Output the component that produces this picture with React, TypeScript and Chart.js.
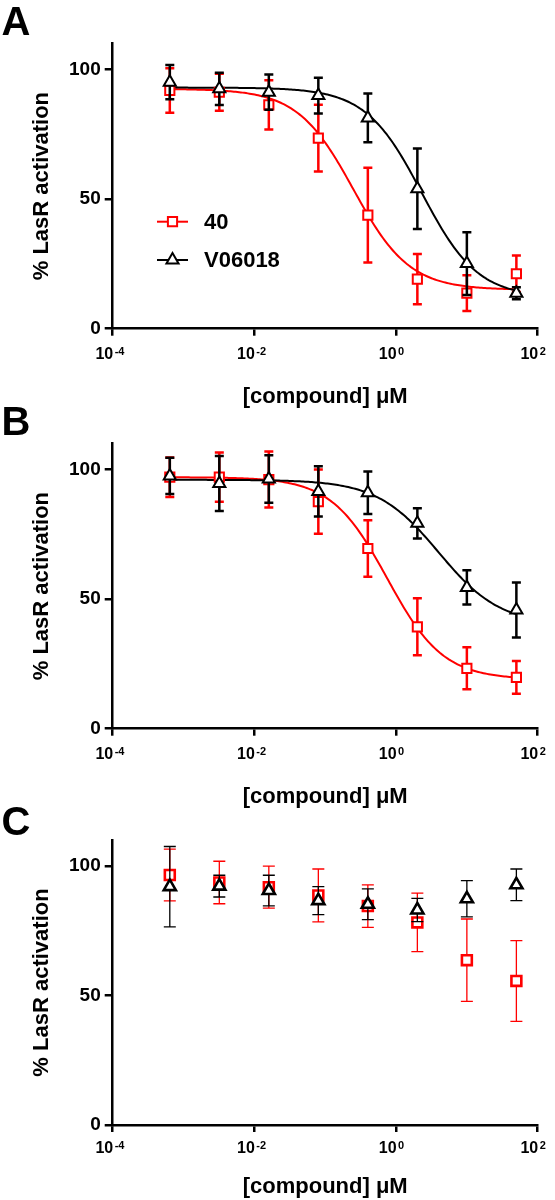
import React, { useEffect, useRef } from "react";
import { Chart, registerables } from "chart.js";

Chart.register(...registerables);

// ---------- data ----------
const concentrations = [0.00064, 0.0032, 0.016, 0.08, 0.4, 2, 10, 50];
const seriesNames = ["40", "V06018"];
const panelLetters = ["A", "B", "C"];
const xTickValues = [1e-4, 1e-2, 1, 1e2];
const xTickBase = ["10", "10", "10", "10"];
const xTickExponents = ["-4", "-2", "0", "2"];
const yTickValues = [0, 50, 100];
const yAxisTitle = "% LasR activation";
const xAxisTitle = "[compound] μM";

const a40Mean = [91.9, 91.2, 86.3, 73.5, 43.8, 19.1, 13.7, 21.2];
const a40Err = [8.6, 7.1, 9.5, 12.9, 18.3, 9.7, 6.9, 7.0];
const aV06018Mean = [95.1, 92.5, 91.2, 89.9, 81.3, 54.0, 25.1, 13.7];
const aV06018Err = [6.6, 6.2, 6.8, 6.9, 9.4, 15.5, 12.1, 2.3];

const b40Mean = [97.0, 97.0, 96.1, 87.6, 69.5, 39.3, 23.3, 19.8];
const b40Err = [7.6, 9.5, 10.8, 12.4, 10.9, 11.0, 8.1, 6.3];
const bV06018Mean = [97.5, 94.6, 96.3, 91.5, 91.0, 79.2, 54.5, 45.8];
const bV06018Err = [7.0, 10.6, 9.2, 9.7, 8.2, 5.8, 6.6, 10.6];

const c40Mean = [96.5, 93.6, 91.8, 88.6, 84.5, 78.2, 63.6, 55.6];
const c40Err = [10.0, 8.2, 8.1, 10.2, 8.2, 11.3, 15.9, 15.6];
const cV06018Mean = [92.0, 92.2, 90.5, 86.6, 85.2, 83.0, 87.3, 92.7];
const cV06018Err = [15.5, 4.2, 5.9, 5.4, 5.9, 4.5, 7.0, 6.1];

// four-parameter logistic fits: [top, bottom, IC50 (µM), Hill slope]
const fitA40 = [92.5, 15, 0.25, 1.1];
const fitAV06018 = [93, 12, 2.3, 1.1];
const fitB40 = [97, 19, 0.75, 1.1];
const fitBV06018 = [96, 40, 4, 1];

// ---------- styling ----------
const FONT = "'Liberation Sans', Arial, Helvetica, sans-serif";
const RED = "#ff0000";
const BLACK = "#000000";

type PanelSpec = {
  letter: string;
  red: { mean: number[]; err: number[] };
  black: { mean: number[]; err: number[] };
  redFit: number[] | null;
  blackFit: number[] | null;
  legend: boolean;
  top: number;
  height: number;
  plotTop: number;
  plotBottom: number;
  tickBaseline: number;
  titleCenter: number;
  thin: boolean;
};

const panels: PanelSpec[] = [
  {
    letter: panelLetters[0],
    red: { mean: a40Mean, err: a40Err },
    black: { mean: aV06018Mean, err: aV06018Err },
    redFit: fitA40,
    blackFit: fitAV06018,
    legend: true,
    top: 0,
    height: 420,
    plotTop: 43.5,
    plotBottom: 328.7,
    tickBaseline: 359,
    titleCenter: 396.5,
    thin: false,
  },
  {
    letter: panelLetters[1],
    red: { mean: b40Mean, err: b40Err },
    black: { mean: bV06018Mean, err: bV06018Err },
    redFit: fitB40,
    blackFit: fitBV06018,
    legend: false,
    top: 400,
    height: 420,
    plotTop: 43.5,
    plotBottom: 328.7,
    tickBaseline: 359,
    titleCenter: 396.5,
    thin: false,
  },
  {
    letter: panelLetters[2],
    red: { mean: c40Mean, err: c40Err },
    black: { mean: cV06018Mean, err: cV06018Err },
    redFit: null,
    blackFit: null,
    legend: false,
    top: 800,
    height: 400,
    plotTop: 40,
    plotBottom: 325,
    tickBaseline: 353,
    titleCenter: 387,
    thin: true,
  },
];

function fitCurve(fit: number[]) {
  const [top, bottom, ic50, hill] = fit;
  const lo = Math.log10(concentrations[0]);
  const hi = Math.log10(concentrations[concentrations.length - 1]);
  const n = 200;
  const pts: { x: number; y: number }[] = [];
  for (let i = 0; i <= n; i++) {
    const x = Math.pow(10, lo + ((hi - lo) * i) / n);
    pts.push({ x, y: bottom + (top - bottom) / (1 + Math.pow(x / ic50, hill)) });
  }
  return pts;
}

function drawMarker(ctx: CanvasRenderingContext2D, style: string, x: number, y: number, r: number) {
  ctx.beginPath();
  if (style === "rect") {
    const s = Math.SQRT1_2 * r;
    ctx.rect(x - s, y - s, 2 * s, 2 * s);
  } else {
    let rad = 0;
    ctx.moveTo(x + Math.sin(rad) * r, y - Math.cos(rad) * r);
    rad += (2 * Math.PI) / 3;
    ctx.lineTo(x + Math.sin(rad) * r, y - Math.cos(rad) * r);
    rad += (2 * Math.PI) / 3;
    ctx.lineTo(x + Math.sin(rad) * r, y - Math.cos(rad) * r);
    ctx.closePath();
  }
  ctx.fill();
  ctx.stroke();
}

const errorBarPlugin = {
  id: "errorBars",
  beforeDatasetDraw(chart: any, args: any) {
    const ds = chart.data.datasets[args.index];
    if (!ds.errors) return;
    const ctx = chart.ctx;
    const yScale = chart.scales.y;
    ctx.save();
    ctx.strokeStyle = ds.borderColor;
    ctx.lineWidth = ds.errorWidth;
    ctx.lineCap = "butt";
    args.meta.data.forEach((el: any, i: number) => {
      const mean = ds.data[i].y;
      const e = ds.errors[i];
      const yT = yScale.getPixelForValue(mean + e);
      const yB = yScale.getPixelForValue(mean - e);
      const x = el.x;
      const c = ds.capHalf;
      ctx.beginPath();
      ctx.moveTo(x, yT);
      ctx.lineTo(x, yB);
      ctx.moveTo(x - c, yT);
      ctx.lineTo(x + c, yT);
      ctx.moveTo(x - c, yB);
      ctx.lineTo(x + c, yB);
      ctx.stroke();
    });
    ctx.restore();
  },
};

const decorPlugin = {
  id: "decor",
  afterDraw(chart: any) {
    const spec: PanelSpec = chart.options.plugins.decor.spec;
    const ctx = chart.ctx;
    const xs = chart.scales.x;
    ctx.save();
    ctx.fillStyle = "#000";
    // panel letter
    ctx.font = `bold 40px ${FONT}`;
    ctx.textAlign = "left";
    ctx.textBaseline = "alphabetic";
    ctx.fillText(spec.letter, 1.5, 35);
    // x tick labels with superscript exponents
    xTickValues.forEach((v, i) => {
      const px = xs.getPixelForValue(v);
      ctx.font = `bold 16px ${FONT}`;
      ctx.textAlign = "right";
      ctx.fillText(xTickBase[i], px + 0.5, spec.tickBaseline);
      ctx.font = `bold 11px ${FONT}`;
      ctx.textAlign = "left";
      ctx.fillText(xTickExponents[i], px + 2, spec.tickBaseline - 4);
    });
    // legend
    if (spec.legend) {
      const items = [
        { name: seriesNames[0], color: RED, style: "rect", r: 6.5, y: 221.7 },
        { name: seriesNames[1], color: BLACK, style: "triangle", r: 7, y: 260 },
      ];
      items.forEach((it) => {
        ctx.strokeStyle = it.color;
        ctx.lineWidth = 2;
        ctx.beginPath();
        ctx.moveTo(157, it.y);
        ctx.lineTo(188, it.y);
        ctx.stroke();
        ctx.fillStyle = "#fff";
        drawMarker(ctx, it.style, 172.5, it.y, it.r);
        ctx.fillStyle = "#000";
        ctx.font = `bold 22px ${FONT}`;
        ctx.textAlign = "left";
        ctx.textBaseline = "middle";
        ctx.fillText(it.name, 204, it.y + 1);
      });
    }
    ctx.restore();
  },
};

function buildConfig(spec: PanelSpec): any {
  const markerW = spec.thin ? 2.6 : 2;
  const datasets: any[] = [];
  if (spec.redFit) {
    datasets.push({
      label: seriesNames[0] + " fit",
      data: fitCurve(spec.redFit),
      showLine: true,
      borderColor: RED,
      borderWidth: 2,
      pointRadius: 0,
      tension: 0,
      order: 4,
    });
  }
  if (spec.blackFit) {
    datasets.push({
      label: seriesNames[1] + " fit",
      data: fitCurve(spec.blackFit),
      showLine: true,
      borderColor: BLACK,
      borderWidth: 2,
      pointRadius: 0,
      tension: 0,
      order: 3,
    });
  }
  datasets.push({
    label: seriesNames[0],
    data: concentrations.map((x, i) => ({ x, y: spec.red.mean[i] })),
    errors: spec.red.err,
    errorWidth: spec.thin ? 1.3 : 2.5,
    capHalf: spec.thin ? 6 : 4.5,
    showLine: false,
    borderColor: RED,
    backgroundColor: "#fff",
    pointStyle: "rect",
    pointRadius: spec.thin ? 7 : 6.5,
    pointBorderWidth: markerW,
    order: 2,
  });
  datasets.push({
    label: seriesNames[1],
    data: concentrations.map((x, i) => ({ x, y: spec.black.mean[i] })),
    errors: spec.black.err,
    errorWidth: spec.thin ? 1.3 : 2.5,
    capHalf: spec.thin ? 6 : 4.5,
    showLine: false,
    borderColor: BLACK,
    backgroundColor: "#fff",
    pointStyle: "triangle",
    pointRadius: 7,
    pointBorderWidth: markerW,
    order: 1,
  });

  const H = spec.height;
  return {
    type: "scatter",
    data: { datasets },
    plugins: [errorBarPlugin, decorPlugin],
    options: {
      responsive: false,
      animation: false,
      devicePixelRatio: 1,
      events: [],
      layout: { padding: { left: 0, right: 555 - 537.7, top: spec.plotTop, bottom: 0 } },
      plugins: {
        legend: { display: false },
        tooltip: { enabled: false },
        decor: { spec },
      },
      scales: {
        x: {
          type: "logarithmic",
          min: 1e-4,
          max: 1e2,
          afterBuildTicks: (s: any) => {
            s.ticks = xTickValues.map((v) => ({ value: v, major: true }));
          },
          afterFit: (s: any) => {
            s.height = H - spec.plotBottom;
          },
          ticks: { display: false },
          grid: {
            display: true,
            drawOnChartArea: false,
            drawTicks: true,
            tickLength: 7,
            lineWidth: 2.5,
            color: "#000",
          },
          border: { display: true, width: 2.5, color: "#000" },
          title: {
            display: true,
            text: xAxisTitle,
            color: "#000",
            font: { family: FONT, size: 22, weight: "bold" },
            padding: { top: 0, bottom: H - 13.2 - spec.titleCenter },
          },
        },
        y: {
          type: "linear",
          min: 0,
          max: 110,
          afterBuildTicks: (s: any) => {
            s.ticks = yTickValues.map((v) => ({ value: v }));
          },
          afterFit: (s: any) => {
            s.width = 112.7;
          },
          ticks: {
            autoSkip: false,
            color: "#000",
            padding: 4,
            font: { family: FONT, size: 19, weight: "bold" },
          },
          grid: {
            display: true,
            drawOnChartArea: false,
            drawTicks: true,
            tickLength: 8,
            lineWidth: 2.5,
            color: "#000",
          },
          border: { display: true, width: 2.5, color: "#000" },
          title: {
            display: true,
            text: yAxisTitle,
            color: "#000",
            font: { family: FONT, size: 22, weight: "bold" },
            padding: { top: 29, bottom: 0 },
          },
        },
      },
    },
  };
}

function Panel({ spec }: { spec: PanelSpec }) {
  const ref = useRef<HTMLCanvasElement | null>(null);
  useEffect(() => {
    if (!ref.current) return;
    const chart = new Chart(ref.current, buildConfig(spec));
    return () => chart.destroy();
  }, [spec]);
  return (
    <div style={{ position: "absolute", left: 0, top: spec.top, width: 555, height: spec.height }}>
      <canvas
        ref={ref}
        width={555}
        height={spec.height}
        style={{ display: "block", width: 555, height: spec.height }}
      />
    </div>
  );
}

export default function App() {
  return (
    <div style={{ position: "absolute", left: 0, top: 0, width: 555, height: 1200, background: "#fff" }}>
      {panels.map((p) => (
        <Panel key={p.letter} spec={p} />
      ))}
    </div>
  );
}
